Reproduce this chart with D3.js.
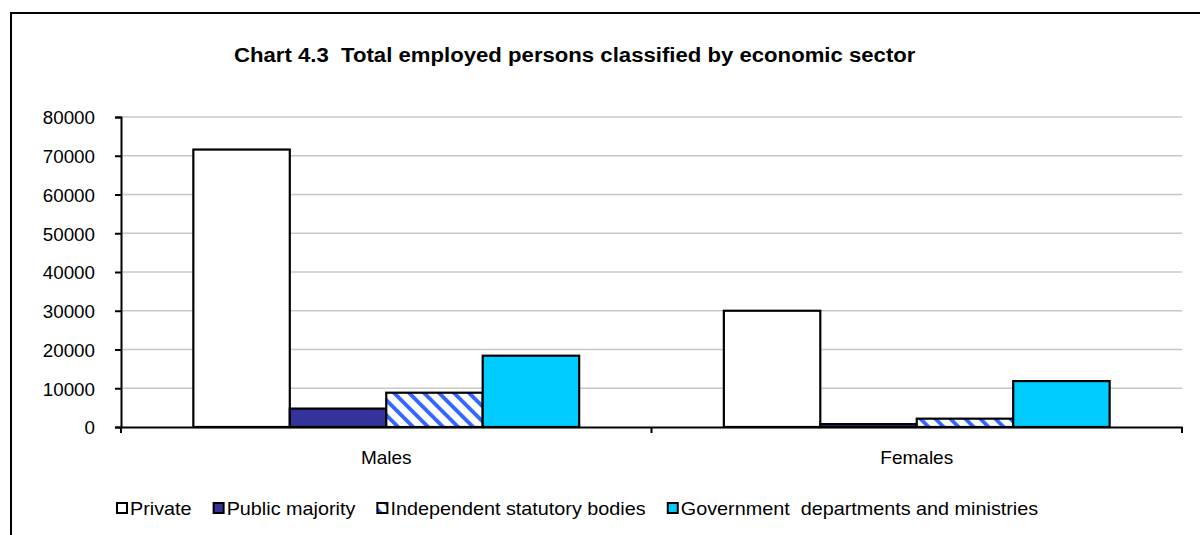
<!DOCTYPE html>
<html><head><meta charset="utf-8">
<script src="https://cdn.jsdelivr.net/npm/d3@7/dist/d3.min.js"></script>
<style>
html,body{margin:0;padding:0;background:#fff;}
svg{display:block;font-family:"Liberation Sans",Arial,sans-serif;}
svg text{white-space:pre;}
</style></head>
<body>
<svg id="chart" width="1200" height="535"></svg>
<script>
const titleText = "Chart 4.3  Total employed persons classified by economic sector";
const categories = ["Males", "Females"];
const seriesNames = ["Private", "Public majority", "Independent statutory bodies", "Government  departments and ministries"];
const privateVals = [71600, 30000];
const publicVals = [4750, 750];
const independentVals = [8850, 2150];
const governmentVals = [18400, 11850];
const yTicks = [0, 10000, 20000, 30000, 40000, 50000, 60000, 70000, 80000];

const seriesValues = [privateVals, publicVals, independentVals, governmentVals];
const fills = ["#ffffff", "#333399", "url(#hatch)", "#00ccff"];

const svg = d3.select("#chart");
const defs = svg.append("defs");
const pat = defs.append("pattern").attr("id", "hatch").attr("patternUnits", "userSpaceOnUse")
  .attr("width", 10.6).attr("height", 10.6).attr("patternTransform", "rotate(-45)");
pat.append("rect").attr("width", 10.6).attr("height", 10.6).attr("fill", "#fff");
pat.append("rect").attr("width", 3.8).attr("height", 10.6).attr("fill", "#3366ff");

// outer frame (extends past right/bottom edges)
svg.append("rect").attr("x", 11).attr("y", 13).attr("width", 1300).attr("height", 600)
  .attr("fill", "none").attr("stroke", "#000").attr("stroke-width", 2);

const L = 121, R = 1182, T = 117, B = 427;
const x0 = d3.scaleBand().domain(categories).range([L, R]).paddingInner(1.5/5.5).paddingOuter(0.75/5.5);
const x1 = d3.scaleBand().domain(d3.range(seriesNames.length)).range([0, x0.bandwidth()]);
const y = d3.scaleLinear().domain([0, 80000]).range([B, T]);

function stretchText(sel, sx) {
  sel.each(function(){
    const t = d3.select(this);
    const xx = +t.attr("x") || 0, yy = +t.attr("y") || 0;
    t.attr("x", 0).attr("y", 0).attr("transform", `translate(${xx},${yy}) scale(${sx},1)`);
  });
}

// gridlines
svg.append("g").selectAll("line").data(yTicks.filter(d => d > 0)).join("line")
  .attr("x1", L).attr("x2", R).attr("y1", d => y(d)).attr("y2", d => y(d))
  .attr("stroke", "#c8c8c8").attr("stroke-width", 1.3);

// bars
const groups = svg.append("g").selectAll("g").data(categories).join("g")
  .attr("transform", d => `translate(${x0(d)},0)`);
groups.selectAll("rect").data((c, ci) => seriesValues.map((vals, si) => ({si, v: vals[ci]}))).join("rect")
  .attr("x", d => x1(d.si)).attr("width", x1.bandwidth())
  .attr("y", d => y(d.v)).attr("height", d => y(0) - y(d.v))
  .attr("fill", d => fills[d.si]).attr("stroke", "#000").attr("stroke-width", 2.2);

// y axis
const yAxis = svg.append("g").attr("transform", `translate(${L},0)`)
  .call(d3.axisLeft(y).tickValues(yTicks).tickSize(6).tickPadding(20).tickFormat(d3.format("d")));
yAxis.select(".domain").attr("stroke", "#000").attr("stroke-width", 2);
yAxis.selectAll(".tick line").attr("stroke", "#000").attr("stroke-width", 2);
yAxis.selectAll(".tick text").attr("font-size", 18.8).attr("fill", "#000")
  .attr("font-family", "Liberation Sans, Arial, sans-serif").attr("dy", "0.36em");

// x axis
const xAxis = svg.append("g").attr("transform", `translate(0,${B})`)
  .call(d3.axisBottom(x0).tickSize(0).tickPadding(24));
xAxis.select(".domain").attr("stroke", "#000").attr("stroke-width", 2);
xAxis.selectAll(".tick text").attr("font-size", 19).attr("fill", "#000")
  .attr("font-family", "Liberation Sans, Arial, sans-serif").attr("dy", "0.71em");
const edges = [L, ...categories.slice(1).map(c => x0(c) - x0.step() * x0.paddingInner() / 2), R];
svg.append("g").selectAll("line").data(edges).join("line")
  .attr("x1", d => d).attr("x2", d => d).attr("y1", B).attr("y2", B + 6)
  .attr("stroke", "#000").attr("stroke-width", 2);

// title
svg.append("text").attr("x", 234).attr("y", 62).attr("font-size", 21).attr("font-weight", "bold")
  .attr("fill", "#000").text(titleText).call(stretchText, 1.055);

// legend
const legend = svg.append("g");
let lx = 117;
const ly = 508;
seriesNames.forEach((name, i) => {
  legend.append("rect").attr("x", lx).attr("y", ly - 5).attr("width", 10).attr("height", 10)
    .attr("fill", fills[i]).attr("stroke", "#000").attr("stroke-width", 2);
  const t = legend.append("text").attr("x", lx + 13).attr("y", ly + 6.5).attr("font-size", 18)
    .attr("fill", "#000").text(name);
  const w = t.node().getComputedTextLength() * 1.1;
  t.call(stretchText, 1.1);
  lx = lx + 13 + w + 22;
});
</script>
</body></html>
